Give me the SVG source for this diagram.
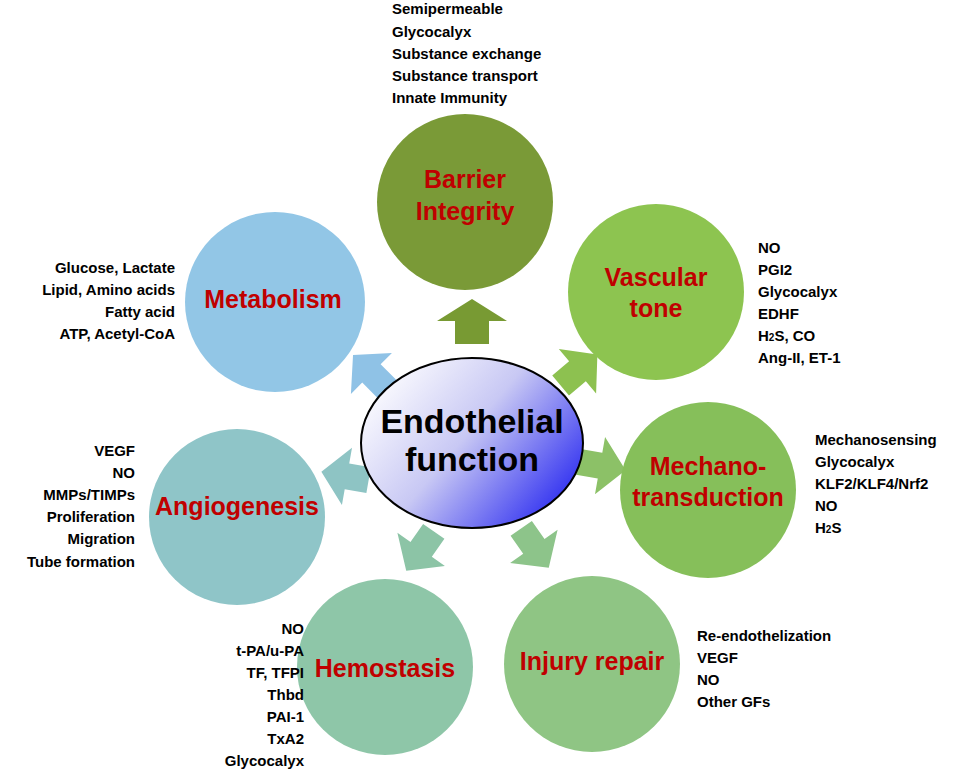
<svg xmlns="http://www.w3.org/2000/svg" width="966" height="771" viewBox="0 0 966 771">
<defs>
<linearGradient id="eg" x1="0" y1="0.2" x2="1" y2="0.85">
<stop offset="0" stop-color="#ffffff"/><stop offset="0.45" stop-color="#c8c8f4"/><stop offset="1" stop-color="#1f1ff0"/>
</linearGradient>
<polygon id="arr" points="-23,-17 0,-17 0,-35 22,0 0,35 0,17 -23,17"/>
<polygon id="arr2" points="-24,-13 -2,-13 -2,-29 24,0 -2,29 -2,13 -24,13"/>
</defs>
<style>
text{font-family:"Liberation Sans",Arial,sans-serif;font-weight:bold}
.l{font-size:25px;fill:#c00000;text-anchor:middle}
.t{font-size:15px;fill:#000}
.r{text-anchor:end}
</style>
<rect width="966" height="771" fill="#fff"/>
<g id="connectors">
<use href="#arr" transform="translate(472,321) rotate(-90)" fill="#789a33"/>
<use href="#arr2" transform="translate(579,370) rotate(-40)" fill="#8dc150"/>
<use href="#arr2" transform="translate(602,466) rotate(10)" fill="#8cc167"/>
<use href="#arr2" transform="translate(535,548) rotate(55)" fill="#8dc48a"/>
<use href="#arr2" transform="translate(420,551) rotate(125)" fill="#8cc4a6"/>
<use href="#arr2" transform="translate(345,476) rotate(190)" fill="#8ec4c4"/>
<use href="#arr2" transform="translate(370,372) rotate(-135)" fill="#8fc2e6"/>
</g>
<g id="barrier"><circle cx="465" cy="202" r="88" fill="#7a9a37"/>
<text class="l" x="465" y="188">Barrier</text><text class="l" x="465" y="220">Integrity</text>
<text class="t" x="392" y="14">Semipermeable</text><text class="t" x="392" y="37">Glycocalyx</text><text class="t" x="392" y="59">Substance exchange</text><text class="t" x="392" y="81">Substance transport</text><text class="t" x="392" y="103">Innate Immunity</text></g>
<g id="vascular"><circle cx="656" cy="292" r="88" fill="#8dc450"/>
<text class="l" x="656" y="286">Vascular</text><text class="l" x="656" y="317">tone</text>
<text class="t" x="758" y="253">NO</text><text class="t" x="758" y="275">PGI2</text><text class="t" x="758" y="297">Glycocalyx</text><text class="t" x="758" y="319">EDHF</text><text class="t" x="758" y="341">H<tspan font-size="10">2</tspan>S, CO</text><text class="t" x="758" y="363">Ang-II, ET-1</text></g>
<g id="mechano"><circle cx="708" cy="490" r="88" fill="#86bf5a"/>
<text class="l" x="708" y="475">Mechano-</text><text class="l" x="708" y="506">transduction</text>
<text class="t" x="815" y="445">Mechanosensing</text><text class="t" x="815" y="467">Glycocalyx</text><text class="t" x="815" y="489">KLF2/KLF4/Nrf2</text><text class="t" x="815" y="511">NO</text><text class="t" x="815" y="533">H<tspan font-size="10">2</tspan>S</text></g>
<g id="injury"><circle cx="592" cy="664" r="88" fill="#8fc584"/>
<text class="l" x="592" y="670">Injury repair</text>
<text class="t" x="697" y="641">Re-endothelization</text><text class="t" x="697" y="663">VEGF</text><text class="t" x="697" y="685">NO</text><text class="t" x="697" y="707">Other GFs</text></g>
<g id="hemostasis"><circle cx="385" cy="667" r="88" fill="#8ec6a8"/>
<text class="l" x="385" y="677">Hemostasis</text>
<text class="t r" x="304" y="634">NO</text><text class="t r" x="304" y="656">t-PA/u-PA</text><text class="t r" x="304" y="678">TF, TFPI</text><text class="t r" x="304" y="700">Thbd</text><text class="t r" x="304" y="722">PAI-1</text><text class="t r" x="304" y="744">TxA2</text><text class="t r" x="304" y="766">Glycocalyx</text></g>
<g id="angiogenesis"><circle cx="237" cy="517" r="88" fill="#8fc5c8"/>
<text class="l" x="237" y="515">Angiogenesis</text>
<text class="t r" x="135" y="456">VEGF</text><text class="t r" x="135" y="478">NO</text><text class="t r" x="135" y="500">MMPs/TIMPs</text><text class="t r" x="135" y="522">Proliferation</text><text class="t r" x="135" y="544">Migration</text><text class="t r" x="135" y="567">Tube formation</text></g>
<g id="metabolism"><circle cx="275" cy="302" r="90" fill="#92c6e6"/>
<text class="l" x="273" y="308">Metabolism</text>
<text class="t r" x="175" y="273">Glucose, Lactate</text><text class="t r" x="175" y="295">Lipid, Amino acids</text><text class="t r" x="175" y="317">Fatty acid</text><text class="t r" x="175" y="339">ATP, Acetyl-CoA</text></g>
<g id="center"><ellipse cx="472" cy="443" rx="111" ry="85" fill="url(#eg)" stroke="#000" stroke-width="2"/>
<text x="472" y="433" font-size="34" text-anchor="middle">Endothelial</text><text x="472" y="471" font-size="34" text-anchor="middle">function</text></g>
</svg>
